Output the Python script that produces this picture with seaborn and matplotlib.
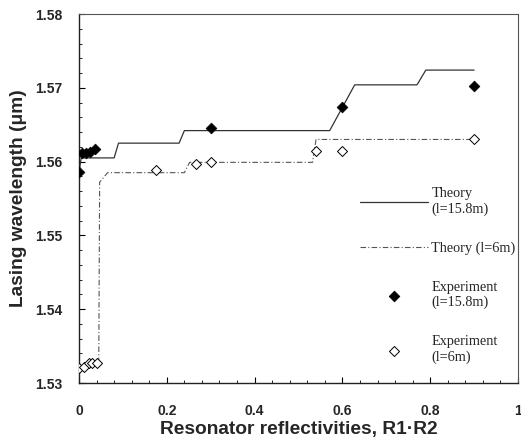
import numpy as np
import pandas as pd
import matplotlib
matplotlib.use("Agg")
import matplotlib.pyplot as plt
from matplotlib.ticker import MultipleLocator
import seaborn as sns

# Theory, l = 15.8 m
theory_long_x = [0.0, 0.005, 0.08, 0.09, 0.228, 0.24, 0.571, 0.628, 0.77, 0.79, 0.9]
theory_long_y = [1.5586, 1.5605, 1.5605, 1.5625, 1.5625, 1.5642, 1.5642, 1.5704, 1.5704, 1.5724, 1.5724]

# Theory, l = 6 m
theory_short_x = [0.045, 0.047, 0.065, 0.24, 0.252, 0.532, 0.54, 0.9]
theory_short_y = [1.5327, 1.5572, 1.5585, 1.5585, 1.5599, 1.5599, 1.5630, 1.5630]

# Experiment, l = 15.8 m
exp_long_x = [0.0, 0.007, 0.017, 0.026, 0.037, 0.30, 0.60, 0.90]
exp_long_y = [1.5586, 1.5612, 1.5612, 1.5613, 1.5617, 1.5646, 1.5674, 1.5703]

# Experiment, l = 6 m
exp_short_x = [0.0, 0.011, 0.022, 0.030, 0.041, 0.176, 0.267, 0.30, 0.539, 0.60, 0.90]
exp_short_y = [1.5321, 1.5322, 1.5327, 1.5327, 1.5327, 1.5588, 1.5597, 1.5599, 1.5615, 1.5615, 1.5631]

labels = ["Theory\n(l=15.8m)", "Theory (l=6m)", "Experiment\n(l=15.8m)", "Experiment\n(l=6m)"]
x_ticks = [0, 0.2, 0.4, 0.6, 0.8, 1]
x_tick_labels = ["0", "0.2", "0.4", "0.6", "0.8", "1"]
y_ticks = [1.53, 1.54, 1.55, 1.56, 1.57, 1.58]
y_tick_labels = ["1.53", "1.54", "1.55", "1.56", "1.57", "1.58"]

sns.set_style("white")
plt.rcParams['font.family'] = ['Liberation Sans', 'DejaVu Sans']

fig = plt.figure(figsize=(5.21, 4.48), dpi=100)
ax = fig.add_axes([79/521, 1 - 383/448, (518 - 79)/521, (383 - 14)/448])

sns.lineplot(x=theory_long_x, y=theory_long_y, ax=ax, sort=False, estimator=None,
             color="#333333", linewidth=0.9, label=labels[0])
sns.lineplot(x=theory_short_x, y=theory_short_y, ax=ax, sort=False, estimator=None,
             color="#555555", linewidth=0.8, label=labels[1])
ax.lines[1].set_dashes([5, 2, 1, 2])
sns.scatterplot(x=exp_long_x, y=exp_long_y, ax=ax, marker="D", s=30,
                color="black", edgecolor="black", linewidth=0.5, label=labels[2], zorder=5)
sns.scatterplot(x=exp_short_x, y=exp_short_y, ax=ax, marker="D", s=26,
                facecolor="white", edgecolor="black", linewidth=0.7, label=labels[3], zorder=5)

ax.set_xlim(0, 1)
ax.set_ylim(1.53, 1.58)
ax.set_xticks(x_ticks)
ax.set_xticklabels(x_tick_labels)
ax.set_yticks(y_ticks)
ax.set_yticklabels(y_tick_labels)
ax.xaxis.set_minor_locator(MultipleLocator(0.04))
ax.yaxis.set_minor_locator(MultipleLocator(0.002))
ax.tick_params(axis="both", which="major", direction="in", length=4, width=0.8,
               labelsize=10, color="black")
ax.tick_params(axis="y", which="major", pad=12)
ax.tick_params(axis="x", which="major", pad=15)
ax.tick_params(axis="both", which="minor", direction="in", length=2.5, width=0.6, color="black")
ax.tick_params(bottom=True, left=True, which="both")
for lab in ax.get_xticklabels() + ax.get_yticklabels():
    lab.set_fontweight("bold")

for side in ["left", "bottom"]:
    ax.spines[side].set_color("#222222")
    ax.spines[side].set_linewidth(1.0)
for side in ["top", "right"]:
    ax.spines[side].set_color("#555555")
    ax.spines[side].set_linewidth(0.8)

ax.set_xlabel("Resonator reflectivities, R1·R2", fontsize=13.8, fontweight="bold", labelpad=2)
ax.set_ylabel("Lasing wavelength (μm)", fontsize=13.8, fontweight="bold", labelpad=6)

leg = ax.legend(loc="upper left", bbox_to_anchor=(0.61, 0.565), frameon=False,
                prop={"family": "Liberation Serif", "size": 10.3},
                handlelength=4.8, handletextpad=0.2, labelspacing=1.8)

fig.savefig("out.png", dpi=100)
